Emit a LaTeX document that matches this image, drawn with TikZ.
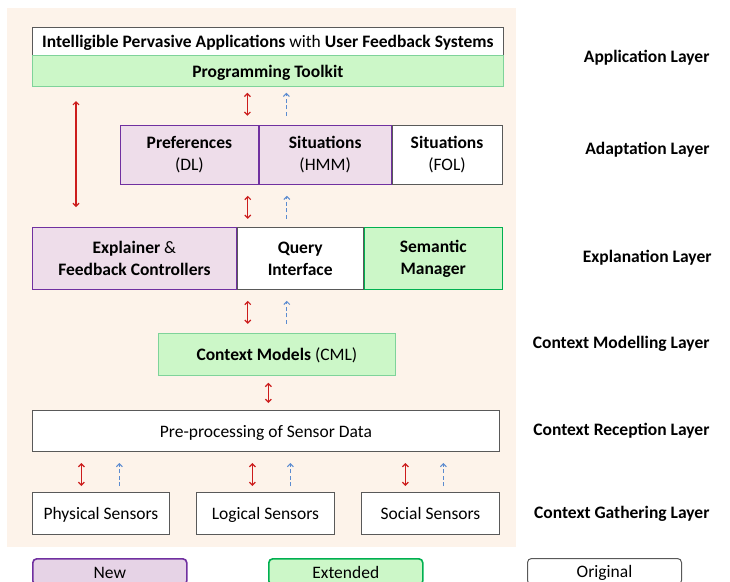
\documentclass[tikz,border=0pt]{standalone}
\usepackage{fontspec}
\setmainfont{Carlito}
\usetikzlibrary{positioning,arrows.meta}

\definecolor{paper}{HTML}{FDF3EA}
\definecolor{newfill}{HTML}{EEDDEA}
\definecolor{newline}{HTML}{7030A0}
\definecolor{extfill}{HTML}{CCF7C8}
\definecolor{extline}{HTML}{00B050}
\definecolor{softgreen}{HTML}{7FD39A}
\definecolor{origline}{HTML}{595959}
\definecolor{arrred}{HTML}{CC1C1C}
\definecolor{arrblue}{HTML}{5B8BD0}

\tikzset{
  box/.style={draw=origline, fill=white, line width=0.8pt, inner sep=0pt,
    align=center, font=\fontsize{17.5}{22}\selectfont},
  oneline/.style={text height=14.5pt, text depth=2pt},
  newbox/.style={box, draw=newline, fill=newfill},
  extbox/.style={box, draw=softgreen, fill=extfill},
  layerlabel/.style={anchor=east, font=\fontsize{17.5}{20}\selectfont\bfseries},
  twoway/.style={draw=arrred, line width=1.2pt,
    {Straight Barb[length=3pt,width=6pt]}-{Straight Barb[length=3pt,width=6pt]}},
  upward/.style={draw=arrblue, line width=1pt, dash pattern=on 4pt off 2.5pt,
    -{Straight Barb[length=3pt,width=6pt]}},
  legend/.style={box, oneline, rounded corners=4pt, line width=1.6pt,
    minimum width=154, minimum height=26, anchor=north west}
}

\begin{document}
\begin{tikzpicture}[x=1pt,y=-1pt]
  \useasboundingbox (0,0) rectangle (730,581);
  \fill[paper] (7,8) rectangle (516,547);

  % application layer
  \node[box, oneline, minimum width=471, minimum height=28, anchor=north west] (apps) at (32,27)
    {\bfseries Intelligible Pervasive Applications \mdseries with \bfseries User Feedback Systems};
  \node[extbox, oneline, minimum width=471, minimum height=31, anchor=north west] (toolkit) at (32,55)
    {\bfseries Programming Toolkit};

  % adaptation layer
  \node[newbox, minimum width=138, minimum height=59, anchor=north west] (prefs) at (120,125)
    {\bfseries Preferences\\(DL)};
  \node[newbox, minimum width=132, minimum height=59, right=0pt of prefs] (sithmm)
    {\bfseries Situations\\(HMM)};
  \node[box, minimum width=110, minimum height=59, right=0pt of sithmm] (sitfol)
    {\bfseries Situations\\(FOL)};

  % explanation layer
  \node[newbox, minimum width=204, minimum height=62, anchor=north west] (explainer) at (32,227)
    {\bfseries Explainer \mdseries\&\\\bfseries Feedback Controllers};
  \node[box, minimum width=126, minimum height=62, right=0pt of explainer] (query)
    {\bfseries Query\\\bfseries Interface};
  \node[extbox, draw=extline, line width=1.2pt,
    minimum width=138, minimum height=62, right=0pt of query] (semantic)
    {\bfseries Semantic\\\bfseries Manager};

  % context modelling / reception
  \node[extbox, oneline, minimum width=237, minimum height=42, anchor=north west] (models) at (158,333)
    {\bfseries Context Models \mdseries(CML)};
  \node[box, oneline, minimum width=467, minimum height=41, anchor=north west] (prepro) at (32,410)
    {Pre-processing of Sensor Data};

  % sensors
  \node[box, oneline, minimum width=137, minimum height=42, anchor=north west] (physical) at (32,492)
    {Physical Sensors};
  \node[box, oneline, minimum width=138, minimum height=42, anchor=north west] (logical) at (196,492)
    {Logical Sensors};
  \node[box, oneline, minimum width=138, minimum height=42, anchor=north west] (social) at (361,492)
    {Social Sensors};

  % connectors
  \draw[twoway] ([xshift=-20.5,yshift=-6]toolkit.south) -- ([xshift=-20.5,yshift=-29]toolkit.south);
  \draw[upward] ([xshift=18.5,yshift=-29]toolkit.south) -- ([xshift=18.5,yshift=-6]toolkit.south);
  \draw[twoway] ([xshift=-11,yshift=-11]prefs.south east) -- ([xshift=-11,yshift=-34]prefs.south east);
  \draw[upward] ([xshift=28,yshift=-34]prefs.south east) -- ([xshift=28,yshift=-11]prefs.south east);
  \draw[twoway] ([xshift=11,yshift=-11]explainer.south east) -- ([xshift=11,yshift=-34]explainer.south east);
  \draw[upward] ([xshift=50,yshift=-34]explainer.south east) -- ([xshift=50,yshift=-11]explainer.south east);
  \draw[twoway] ([xshift=-8.5,yshift=-7]models.south) -- ([xshift=2.5,yshift=7]prepro.north);
  \draw[twoway] (76,101) coordinate (longtop) -- (76,207) coordinate (longbot);
  \foreach \s/\xr/\xb in {physical/-19.5/18.5, logical/-13/25, social/-25/13} {
    \draw[twoway] ([xshift=\xr,yshift=29]\s.north) -- ([xshift=\xr,yshift=6]\s.north);
    \draw[upward] ([xshift=\xb,yshift=6]\s.north) -- ([xshift=\xb,yshift=29]\s.north);
  }

  % layer names
  \node[layerlabel] (lapp) at (713,58) {Application Layer};
  \node[layerlabel] (ladapt) at (713,150) {Adaptation Layer};
  \node[layerlabel] (lexpl) at (715,258) {Explanation Layer};
  \node[layerlabel] (lmodel) at (713,344) {Context Modelling Layer};
  \node[layerlabel] (lrecep) at (713,431) {Context Reception Layer};
  \node[layerlabel] (lgath) at (713,514) {Context Gathering Layer};

  % legend
  \node[legend, draw=newline, fill=newfill!94!newline] (lnew) at (32,558) {New};
  \node[legend, draw=extline, fill=extfill] (lext) at (268,558) {Extended};
  \node[legend, draw=origline, line width=1pt] (lorig) at (527,558) {Original};
\end{tikzpicture}
\end{document}
